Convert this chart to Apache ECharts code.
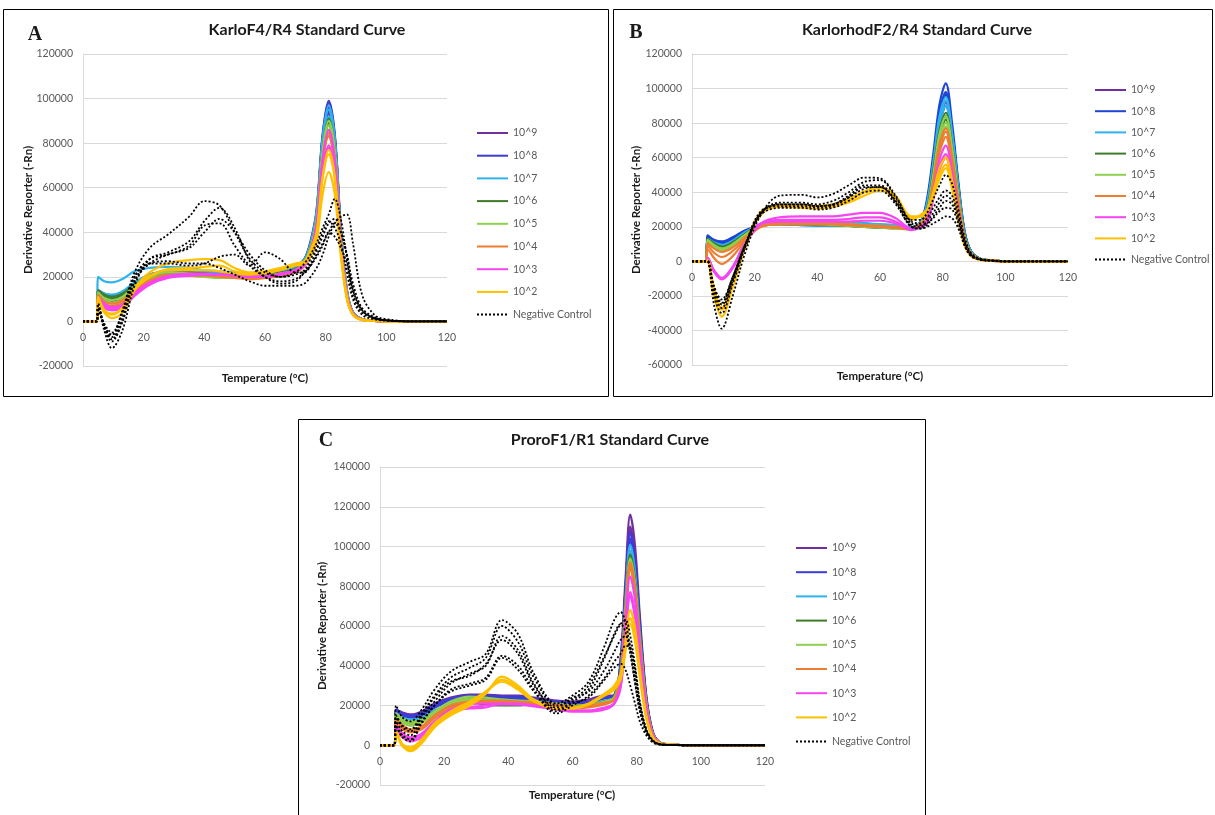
<!DOCTYPE html>
<html>
<head>
<meta charset="utf-8">
<script src="https://cdn.jsdelivr.net/npm/echarts@6/dist/echarts.min.js"></script>
<style>
html,body{margin:0;padding:0;background:#fff;}
#chart{width:1215px;height:815px;}
</style>
</head>
<body>
<div id="chart"></div>
<script>
// ---------- DATA (values in thousands of -Rn) ----------
const CONC = ['10^9','10^8','10^7','10^6','10^5','10^4','10^3','10^2'];
const NC_NAME = 'Negative Control';
const X_TICKS = [0,20,40,60,80,100,120];
const TEMPS_AB = [0,4.5,5,7,9.5,13,17,22,28,35,40,45,50,55,60,65,70,73,75,77,79,81,83,85,87,89,92,96,100,110,120];
const TEMPS_C  = [0,4.5,5,7,9.5,13,17,22,28,33,38,43,48,55,60,65,70,73,75,76.5,78,79.5,81,83,85,87,90,95,100,110,120];

// Panel A – KarloF4/R4
const A_e9 = [
 [0,0,13,11,10,12,17,20,22,22,22,21.5,21,21,21,22,24, 28,35,49,83,98,83,41,14,4,1,0.3,0,0,0],
 [0,0,12,10,9,11,16,19,21,21.5,21,21,21,21,21,22,24, 27,34,47,79,93,79,39,13,4,1,0.3,0,0,0],
 [0,0,14,12,11,13,17,21,22,22,22,22,21.5,21,21,22,24, 27,34,48,81,95,81,40,13,4,1,0.3,0,0,0]];
const A_e8 = [
 [0,0,14,12.5,11.5,13,17,21,22.5,22.5,22,22,21.5,21,21.5,22,24, 28,36,50,84,99,84,42,14,4,1,0.3,0,0,0],
 [0,0,13,11.5,10.5,12,16.5,20,22,22,22,21.5,21,21,21,22,24, 28,35,48,82,96,82,40,13,4,1,0.3,0,0,0],
 [0,0,12,10.5,9.5,11.5,16,20,21.5,22,21.5,21,21,21,21,22,23.5, 27,34,47,80,94,80,40,13,4,1,0.3,0,0,0]];
const A_e7 = [
 [0,0,20,18,17.5,19,22.5,24,24.5,24,23,22.5,22,21.5,22,23,25, 28,35,49,82,97,82,41,14,4,1,0.3,0,0,0],
 [0,0,14,12.5,12,13.5,17.5,21,22.5,22.5,22,22,21.5,21,21.5,22,24.5, 27,34,48,81,95,81,40,13,4,1,0.3,0,0,0],
 [0,0,13,11.5,11,13,17,20.5,22,22,22,21.5,21,21,21.5,22,24, 27,34,46,78,92,78,39,13,4,1,0.3,0,0,0]];
const A_e6 = [
 [0,0,14,12,11,12.5,16.5,20,21.5,22,21.5,21,21,20.5,21,22,23.5, 27,33,46,77,91,77,38,13,4,1,0.3,0,0,0],
 [0,0,13,11,10,11.5,16,19.5,21,21.5,21.5,21,20.5,20.5,21,21.5,23, 26,33,45,76,89,76,37,12,3.5,0.8,0.2,0,0,0],
 [0,0,12,10,9.5,11,15.5,19,21,21,21,20.5,20.5,20,20.5,21.5,23, 26,32,45,75,88,75,37,12,3.5,0.8,0.2,0,0,0]];
const A_e5 = [
 [0,0,12,9.5,8.5,10,15,19,21,20.5,20,20,19.5,19.5,20,21,23, 27,33,46,77,90,77,38,13,4,1,0.3,0,0,0],
 [0,0,11,9,8,9.5,14.5,18.5,20.5,20.5,20,19.5,19.5,19.5,20,21,22.5, 26,32,45,75,88,75,37,12,3.5,0.8,0.2,0,0,0],
 [0,0,13,10.5,9.5,11,16,20,22,21.5,21,20.5,20,20,20.5,21.5,23, 26,32,44,73,86,73,36,12,3.5,0.8,0.2,0,0,0]];
const A_e4 = [
 [0,0,11,8,7,8.5,13.5,18,20.5,21,21,20.5,20,19.5,19.5,20.5,22.5, 26,31,43,72,85,72,36,12,3.5,0.8,0.2,0,0,0],
 [0,0,10,7,6,7.5,13,17.5,20,20.5,20.5,20,19.5,19,19.5,20.5,22, 25,31,43,71,84,71,35,12,3.5,0.8,0.2,0,0,0],
 [0,0,12,9,8,9.5,14,18.5,21,21,21,20.5,20,19.5,20,21,22.5, 25,31,42,71,83,71,35,11,3,0.8,0.2,0,0,0]];
const A_e3 = [
 [0,0,10,7,5.5,6.5,12,17,20,21,21,21,20.5,20,20,21,23, 26,32,44,73,86,73,36,12,3.5,0.8,0.2,0,0,0],
 [0,0,9,6,5,6,11.5,16.5,19.5,20.5,21,21,20.5,20,20,21,22.5, 25,30,40,67,79,67,33,11,3,0.7,0.2,0,0,0],
 [0,0,11,8,6.5,7.5,13,17.5,20.5,21.5,21.5,21,21,20.5,20.5,21.5,23, 25,30,40,66,78,66,33,11,3,0.7,0.2,0,0,0]];
const A_e2 = [
 [0,0,11,5,3,6,15,22,26,27.5,28,27.5,24,22,22.5,24,26, 27,32,40,65,77,65,32,11,3,0.7,0.2,0,0,0],
 [0,0,9,4,1.5,4,14,20,23.5,24,24.5,25,22.5,21.5,22,23.5,25.5, 26,29,36,57,67,57,29,10,3,0.7,0.2,0,0,0],
 [0,0,10,5,3.5,6,14.5,20.5,23,23,23,22.5,21.5,21,21.5,23,25, 26,31,39,64,75,64,32,10,3,0.7,0.2,0,0,0]];
const A_nc = [
 [0,0,8,-2,-6,5,22,33,39,47,54,52,40,28,22,20,22, 26,30,35,42,48,55,46,28,12,4,1.5,0.5,0,0],
 [0,0,7,-4,-12,-4,16,28,31,36,45,51,42,27,20,17,18, 22,26,32,38,44,46,40,30,17,6,2,0.5,0,0],
 [0,0,6,-3,-9,0,18,26,30,33,40,46,40,30,23,20,21, 23,28,33,40,45,42,35,22,10,3,1,0.3,0,0],
 [0,0,7,-2,-7,2,20,28,30,34,43,44,34,25,20,18,19, 22,25,29,34,40,38,33,26,14,5,1.5,0.5,0,0],
 [0,0,6,-1,-5,4,20,26,26,25,26,29,30,25,31,28,22, 22,25,30,35,40,44,40,30,15,5,1.5,0.5,0,0],
 [0,0,5,-2,-8,0,18,26,27,26,26,24,21,18,16,16,16, 17,20,24,30,38,44,47,48,35,12,3,1,0,0]];

// Panel B – KarlorhodF2/R4
const B_e9 = [
 [0,0,14,12,10.5,13,17.5,21,22,21.5,21,21,21,21,20.5,20,19, 23,34,58,85,97,76,44,16.5,6,1.5,0.5,0,0,0],
 [0,0,13,11,10,12.5,17,21,22,21.5,21,21,21,21,20.5,20,19, 22,32,55,81,92,72,41,16,5.5,1.4,0.5,0,0,0],
 [0,0,13.5,11.5,10,12.5,17,21,22,21.5,21,21,21,21,20.5,20,19, 22,32,54,79,90,70,40,15,5.5,1.3,0.4,0,0,0]];
const B_e8 = [
 [0,0,15,12.5,11.5,14,18,21,22,21.5,21,21.5,22.5,22,21,20.5,19.5, 23,36,62,91,103,80,46,17.5,6,1.5,0.5,0,0,0],
 [0,0,14,12,11,13.5,17.5,21,22,21.5,21,21,21.5,21,20.5,20,19.5, 23,34,59,86,98,76,44,17,6,1.5,0.5,0,0,0],
 [0,0,14,12,10.5,13,17.5,20.5,21.5,21,21,21,21,21,20.5,20,19, 23,34,58,84,96,75,43,16,6,1.5,0.5,0,0,0]];
const B_e7 = [
 [0,0,13,11,9.5,12,17,21,22,21,20.5,20.5,21,21,20.5,20.5,19.5, 23,33,57,84,95,74,43,16,6,1.4,0.5,0,0,0],
 [0,0,12.5,10.5,9,11.5,16.5,21.5,23,23.5,23.5,23,22.5,22,21.5,21,20, 22,33,56,82,93,73,42,16,5.5,1.4,0.5,0,0,0],
 [0,0,12,10,9,11,16.5,21,22,21.5,21,21,21,21,20.5,20,19.5, 22,32,54,79,90,70,40,15,5.5,1.3,0.4,0,0,0]];
const B_e6 = [
 [0,0,13,10.5,8.5,11,16,21,22,22,22,21.5,21,20.5,20,19.5,19, 22,30,52,76,86,67,39,15,5,1.3,0.4,0,0,0],
 [0,0,12.5,10,8,10.5,15.5,20.5,21.5,21.5,21.5,21,20.5,20,19.5,19.5,19, 22,29,50,74,84,66,38,14,5,1.3,0.4,0,0,0],
 [0,0,12,9.5,7.5,10,15.5,20.5,21.5,21.5,21,21,20.5,20,19.5,19,19, 22,29,49,72,82,64,37,14,5,1.2,0.4,0,0,0]];
const B_e5 = [
 [0,0,12,9,7,9.5,15,20.5,22,22.5,22.5,22,21.5,21,20.5,20,19, 22,29,50,74,84,66,38,14,5,1.3,0.4,0,0,0],
 [0,0,11.5,8.5,6.5,9,15,20.5,21.5,21.5,21.5,21,20.5,20,19.5,19,18.5, 22,28,48,70,80,62,36,14,5,1.2,0.4,0,0,0],
 [0,0,12.5,9.5,7.5,10,15.5,21,22,22,22,21.5,21,20.5,20,19.5,19, 22,27,47,69,78,61,35,13,4.5,1.2,0.4,0,0,0]];
const B_e4 = [
 [0,0,10.5,7.5,5.5,8,14,20.5,22,22,22,22,21.5,21,20.5,20,19, 22,27,46,68,77,60,35,13,4.5,1.2,0.4,0,0,0],
 [0,0,9,5,2.5,6,13,20,21.5,21.5,21.5,21.5,21,20.5,20,19.5,18.5, 21,26,45,66,75,59,34,13,4.5,1.1,0.4,0,0,0],
 [0,0,7,2,-1.5,3,12,20,21.5,21.5,21.5,21.5,21,20.5,20,19.5,18.5, 21,25,43,63,72,56,32,12,4.3,1.1,0.4,0,0,0]];
const B_e3 = [
 [0,0,2,-6,-10.5,-4,11,22,25.5,26,26,26,27,28,28,25,19, 20,24,40,59,67,52,30,11,4,1,0.3,0,0,0],
 [0,0,1.5,-5,-9.5,-3,10.5,21.5,24,24,24,24,24.5,25.5,25.5,23,18, 20,23,37,55,62,48,28,11,3.7,0.9,0.3,0,0,0],
 [0,0,2,-5.5,-10,-3.5,11,22,23,23,23,23,23,23.5,23.5,22,18.5, 20,22,36,53,60,47,27,10,3.6,0.9,0.3,0,0,0]];
const B_e2 = [
 [0,0,0,-20,-32,-15,8,27,31.5,31,30.5,31.5,34,38,41,36,24, 27,30,40,54,60,47,27,10,3.6,0.9,0.3,0,0,0],
 [0,0,0.5,-17,-28,-12,10,28,32,32,31.5,32.5,35,40,42.5,37,25, 26,29,38,50,56,44,25,10,3.4,0.9,0.3,0,0,0],
 [0,0,0.5,-16,-27,-11,10,28.5,32.5,32.5,32,33,36,40.5,43,38,26, 26,28,37,48,54,42,24,9,3.2,0.8,0.3,0,0,0]];
const B_nc = [
 [0,0,0,-25,-39,-20,5,27,38,38.5,37,39,44,48.5,48,38,24, 24,28,36,44,50,45,30,14,5,1.5,0.5,0,0,0],
 [0,0,0,-20,-30,-13,8,28,34,34,33,35,40,46,47,37,23, 22,25,31,37,41,38,27,12,4,1.2,0.4,0,0,0],
 [0,0,0,-16,-25,-10,9,28,33,33,32,33,38,44,44,35,21, 20,23,28,34,38,35,25,11,4,1.2,0.4,0,0,0],
 [0,0,0,-15,-22,-9,10,29,32,32,31,32,37,43,43,34,20, 19,21,26,31,35,33,24,11,4,1.2,0.4,0,0,0],
 [0,0,0,-18,-27,-11,9,28,33,33,32,33,37,42,43,35,22, 21,22,25,29,31,30,22,10,3.5,1,0.3,0,0,0],
 [0,0,0,-14,-24,-9,10,27,31,31,30,31,35,40,41,33,20, 19,20,22,24,26,25,19,9,3,1,0.3,0,0,0]];

// Panel C – ProroF1/R1
const C_e9 = [
 [0,0,18,16.5,15.5,17,21,24,25.5,25.5,25,25,24,22.5,22,23,25, 25,44,83,116,100,65,25,7,1.7,0.4,0.1,0,0,0],
 [0,0,17,15.5,14.5,16,20,23,25,25,24.5,24.5,23.5,22,21.5,22,24, 25,42,79,110,95,62,24,6.6,1.6,0.4,0.1,0,0,0],
 [0,0,16,14,13,15,19,22.5,24.5,24.5,24,24,23,21.5,21,21.5,23.5, 25,41,78,108,93,60,24,6.5,1.6,0.4,0.1,0,0,0]];
const C_e8 = [
 [0,0,18,16,15,16.5,20.5,23.5,25,25,24.5,24.5,23.5,22,21.5,22,24, 25,41,77,107,92,60,23,6.4,1.6,0.4,0.1,0,0,0],
 [0,0,17,15,14,15.5,19.5,22.5,24,24,23.5,23.5,22.5,21.5,21,21.5,23.5, 24,40,75,104,89,58,23,6.2,1.5,0.3,0.1,0,0,0],
 [0,0,16,14,13,14.5,19,22,23.5,23.5,23,23,22,21,20.5,21,23, 24,39,73,102,88,57,22,6,1.5,0.3,0.1,0,0,0]];
const C_e7 = [
 [0,0,16,14,13,14,17.5,20,22,23,23,22.5,22,21,20,20.5,22.5, 24,38,73,101,87,56,22,6,1.5,0.3,0.1,0,0,0],
 [0,0,15,13,12,13.5,17,19.5,21.5,22.5,22.5,22,21.5,20.5,19.5,20,22, 24,37,71,98,84,55,22,5.9,1.5,0.3,0.1,0,0,0],
 [0,0,15.5,13.5,12.5,14,17.5,20.5,22.5,23,22.5,22,21.5,20.5,20,20.5,22.5, 24,37,69,96,83,54,21,5.8,1.4,0.3,0.1,0,0,0]];
const C_e6 = [
 [0,0,15,12.5,11,12.5,17,21,22,21,20.5,20.5,21,20.5,20,20.5,22, 24,37,69,96,83,54,21,5.8,1.4,0.3,0.1,0,0,0],
 [0,0,14,11.5,10,11.5,16,20,21.5,20.5,20,20,20.5,20,19.5,20,21.5, 24,36,68,94,81,53,21,5.6,1.4,0.3,0.1,0,0,0],
 [0,0,14.5,12,10.5,12,16.5,20.5,21.5,21,20.5,20.5,20.5,20,19.5,20,22, 23,35,66,92,79,52,20,5.5,1.4,0.3,0.1,0,0,0]];
const C_e5 = [
 [0,0,16,13.5,12,13,17,22,24.5,24,23,22.5,22,21,20,20.5,22, 24,36,68,94,81,53,21,5.6,1.4,0.3,0.1,0,0,0],
 [0,0,15,12.5,11,12,16,21,23.5,23,22,22,21.5,20.5,19.5,20,21.5, 24,35,67,93,80,52,20,5.6,1.4,0.3,0.1,0,0,0],
 [0,0,14,11.5,10,11.5,15.5,20.5,22.5,22.5,22,21.5,21,20,19.5,20,21.5, 23,35,66,91,78,51,20,5.5,1.4,0.3,0.1,0,0,0]];
const C_e4 = [
 [0,0,12,9,7,8.5,14,19,21.5,22,22,21.5,21,20,19,19.5,21, 23,35,66,92,79,52,20,5.5,1.4,0.3,0.1,0,0,0],
 [0,0,11,8,6.5,8,13.5,18.5,21,21.5,21.5,21,20.5,19.5,18.5,19,20.5, 23,35,66,91,78,51,20,5.5,1.4,0.3,0.1,0,0,0],
 [0,0,13,10,8,9.5,15,20,22,22.5,22.5,22,21.5,20.5,19.5,20,21.5, 23,34,64,89,77,50,20,5.3,1.3,0.3,0.1,0,0,0]];
const C_e3 = [
 [0,0,9,5,3,5,11,17,18.5,19,21,21,20,18,17,17,18.5, 21,32,61,85,73,48,19,5.1,1.3,0.3,0.1,0,0,0],
 [0,0,8,4,2,4,10,16,19,20,20.5,20.5,19.5,18,17,17,18, 21,30,55,77,66,43,17,4.6,1.2,0.3,0.1,0,0,0],
 [0,0,10,6,4,6,12,18,20.5,21,21,20.5,20,18.5,17.5,17.5,19, 21,29,54,75,64,42,16.5,4.5,1.1,0.3,0.1,0,0,0]];
const C_e2 = [
 [0,0,7,0,-3,1,9,15,20,26,34.5,30,23,19,19,21,26, 30,36,52,68,59,38,15,4,1,0.3,0.1,0,0,0],
 [0,0,6,-0.5,-2,2,10,16,21,27,33,29,22.5,18.5,18.5,20.5,25.5, 29,34,49,64,55,36,14,3.8,1,0.3,0.1,0,0,0],
 [0,0,6.5,0.5,-1,3,11,17,22,27,32,28,22,18.5,18.5,20.5,25, 28,33,47,61,52,34,13.5,3.7,0.9,0.3,0.1,0,0,0]];
const C_nc = [
 [0,0,20,14,12,18,28,37,42,46,63,56,36,21,25,32,50, 63,67,62,48,32,18,7,2,0.5,0.2,0,0,0,0],
 [0,0,15,10,8,16,25,34,39,44,60,52,34,20,23,30,45, 55,61,63,55,40,22,8,2.5,0.6,0.2,0,0,0,0],
 [0,0,12,7,5,14,22,31,36,40,55,48,31,18,22,28,44, 56,61,57,46,31,17,6.5,2,0.5,0.2,0,0,0,0],
 [0,0,14,9,7,15,24,32,35,41,53,46,30,19,24,27,38, 47,53,55,50,36,20,7.5,2.2,0.5,0.2,0,0,0,0],
 [0,0,10,5,3,12,20,28,31,34,45,40,28,17,21,24,33, 39,41,38,30,21,12,5,1.5,0.4,0.1,0,0,0,0],
 [0,0,9,4,2,11,20,27,30,33,44,38,27,16,20,25,34, 42,46,50,49,38,21,8,2.3,0.6,0.2,0,0,0,0]];

// ---------- STYLE ----------
const COLORS_A = ['#7030A0','#3C3CCF','#2FB3EE','#3E7B27','#8FD14F','#ED7D31','#F545F0','#FFC000'];
const COLORS_B = ['#7030A0','#1E46D4','#2FB3EE','#3E7B27','#8FD14F','#ED7D31','#F545F0','#FFC000'];
const COLORS_C = ['#7030A0','#3C3CD8','#2FB3EE','#3E7B27','#8FD14F','#ED7D31','#F545F0','#FFC000'];
const FONT = 'Lato, "Liberation Sans", sans-serif';

const panels = [
  {key:'A', temps:TEMPS_AB, std:[A_e9,A_e8,A_e7,A_e6,A_e5,A_e4,A_e3,A_e2], nc:A_nc, colors:COLORS_A,
   grid:{left:83, top:54, width:364, height:312}, ymin:-20000, ymax:120000,
   legend:{left:476, top:127, itemGap:10.7}},
  {key:'B', temps:TEMPS_AB, std:[B_e9,B_e8,B_e7,B_e6,B_e5,B_e4,B_e3,B_e2], nc:B_nc, colors:COLORS_B,
   grid:{left:692, top:54, width:376, height:311}, ymin:-60000, ymax:120000,
   legend:{left:1094, top:84, itemGap:9.2}},
  {key:'C', temps:TEMPS_C, std:[C_e9,C_e8,C_e7,C_e6,C_e5,C_e4,C_e3,C_e2], nc:C_nc, colors:COLORS_C,
   grid:{left:380, top:467, width:385, height:318}, ymin:-20000, ymax:140000,
   legend:{left:795, top:542, itemGap:12.2}}
];

function toPoints(temps, vals){ return temps.map((t,i)=>[t, vals[i]*1000]); }

const grids=[], xAxes=[], yAxes=[], legends=[], series=[];
panels.forEach((p, pi)=>{
  grids.push(Object.assign({containLabel:false}, p.grid));
  // place the temperature axis on the zero line of the y scale
  const zeroOffset = -p.grid.height * (0 - p.ymin) / (p.ymax - p.ymin);
  xAxes.push({type:'value', gridIndex:pi, min:0, max:120, interval:20, position:'bottom', offset:zeroOffset,
    axisLine:{show:true, onZero:false, lineStyle:{color:'#d9d9d9', width:1}},
    axisTick:{show:false}, splitLine:{show:false},
    axisLabel:{color:'#595959', fontSize:10.5, fontFamily:FONT, margin:11}});
  yAxes.push({type:'value', gridIndex:pi, min:p.ymin, max:p.ymax, interval:20000,
    axisLine:{show:true, onZero:false, lineStyle:{color:'#d9d9d9', width:1}},
    axisTick:{show:false},
    splitLine:{show:true, lineStyle:{color:'#d9d9d9', width:1}},
    axisLabel:{color:'#595959', fontSize:10.5, fontFamily:FONT, margin:10, formatter:v=>String(v)}});
  const names = CONC.map(c=>p.key+' '+c).concat([p.key+' '+NC_NAME]);
  legends.push({orient:'vertical', left:p.legend.left, top:p.legend.top, itemGap:p.legend.itemGap,
    padding:0, itemWidth:31, itemHeight:12, data:names, selectedMode:false,
    itemStyle:{opacity:0},
    formatter:n=>n.slice(2),
    textStyle:{color:'#595959', fontSize:10.5, fontFamily:FONT, lineHeight:12}});
  p.std.forEach((reps, ci)=>{
    reps.forEach(vals=>{
      series.push({type:'line', name:p.key+' '+CONC[ci], xAxisIndex:pi, yAxisIndex:pi,
        data:toPoints(p.temps, vals), smooth:0.35, symbol:'none', silent:true,
        color:p.colors[ci], itemStyle:{color:p.colors[ci]},
        lineStyle:{color:p.colors[ci], width:2.2}});
    });
  });
  p.nc.forEach(vals=>{
    series.push({type:'line', name:p.key+' '+NC_NAME, xAxisIndex:pi, yAxisIndex:pi,
      data:toPoints(p.temps, vals), smooth:0.35, symbol:'none', silent:true,
      color:'#000', itemStyle:{color:'#000'},
      lineStyle:{color:'#000', width:1.8, type:[2,2]}});
  });
});

function txt(text, x, y, font, opts){
  return Object.assign({type:'text', x:x, y:y, silent:true,
    style:{text:text, font:font, fill:'#1a1a1a', textAlign:'center', textVerticalAlign:'middle'}}, opts||{});
}
const TITLE_FONT = 'bold 16px Lato, "Liberation Sans", sans-serif';
const AXNAME_FONT = 'bold 11.5px Lato, "Liberation Sans", sans-serif';
const LETTER_FONT = 'bold 20px "Liberation Serif", "DejaVu Serif", serif';

const graphic = [
  {type:'rect', shape:{x:3.5, y:9.5, width:605, height:387}, style:{fill:'none', stroke:'#000', lineWidth:1}, silent:true},
  {type:'rect', shape:{x:613.5, y:9.5, width:599, height:387}, style:{fill:'none', stroke:'#000', lineWidth:1}, silent:true},
  {type:'rect', shape:{x:298.5, y:419.5, width:627, height:420}, style:{fill:'none', stroke:'#000', lineWidth:1}, silent:true},
  txt('A', 35, 35, LETTER_FONT),
  txt('B', 636, 33, LETTER_FONT),
  txt('C', 326, 441, LETTER_FONT),
  txt('KarloF4/R4 Standard Curve', 307, 30, TITLE_FONT),
  txt('KarlorhodF2/R4 Standard Curve', 917, 30, TITLE_FONT),
  txt('ProroF1/R1 Standard Curve', 610, 440, TITLE_FONT),
  txt('Temperature (°C)', 265, 378, AXNAME_FONT),
  txt('Temperature (°C)', 880, 376, AXNAME_FONT),
  txt('Temperature (°C)', 572, 795, AXNAME_FONT),
  txt('Derivative Reporter (-Rn)', 28, 210, AXNAME_FONT, {rotation:Math.PI/2}),
  txt('Derivative Reporter (-Rn)', 636, 210, AXNAME_FONT, {rotation:Math.PI/2}),
  txt('Derivative Reporter (-Rn)', 322, 626, AXNAME_FONT, {rotation:Math.PI/2})
];

const chart = echarts.init(document.getElementById('chart'), null, {renderer:'canvas'});
chart.setOption({
  animation:false,
  backgroundColor:'#fff',
  grid:grids, xAxis:xAxes, yAxis:yAxes, legend:legends, series:series, graphic:graphic
});
</script>
</body>
</html>
